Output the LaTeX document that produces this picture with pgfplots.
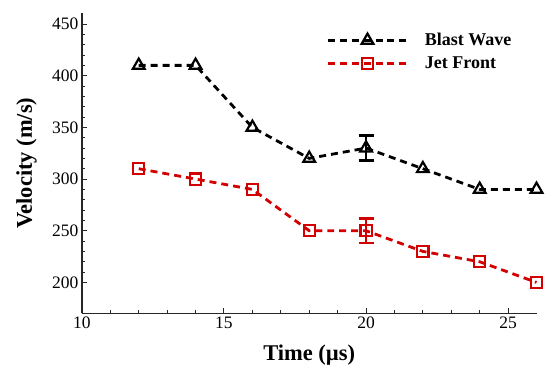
\documentclass[border=0pt]{standalone}
\usepackage{fontspec}
\setmainfont{Liberation Serif}
\usepackage{pgfplots}
\pgfplotsset{compat=1.18}
\definecolor{jetred}{RGB}{210,0,0}
\begin{document}
\begin{tikzpicture}
\begin{axis}[name=ax,
 width=455pt, height=301pt, scale only axis,
 xmin=10, xmax=26, ymin=170, ymax=461,
 xtick={10,15,20,25}, ytick={200,250,...,450},
 minor x tick num=4, minor y tick num=4,
 axis lines*=left, axis line style={line width=1.3pt, black!85},
 tick align=inside, major tick length=5pt, minor tick length=3pt,
 tick style={line width=1pt, black!85},
 /pgf/number format/assume math mode=true,
 ticklabel style={font=\fontsize{17.5}{19}\selectfont},
 xlabel={Time (µs)}, ylabel={Velocity (m/s)},
 label style={font=\fontsize{22.5}{26}\selectfont\bfseries},
 xlabel style={at={(axis description cs:0.5,0)}, anchor=north, yshift=-28pt},
 ylabel style={at={(axis description cs:-0.152,0.5)}, anchor=north},
 legend style={draw=none, fill=none, at={(axis description cs:0.53,0.945)}, anchor=north west, font=\fontsize{18}{20}\selectfont\bfseries, row sep=5.5pt, /tikz/every odd column/.append style={column sep=14pt}},
 legend cell align=left,
 legend image code/.code={\draw[mark repeat=2, mark phase=2, #1, line width=3pt] plot coordinates {(0pt,0pt) (40pt,0pt) (80pt,0pt)};},
 clip=false,
]
\addplot[black, line width=2.8pt, dash pattern=on 7pt off 5pt, mark=triangle, mark size=6.8pt, mark options={solid, line width=2.2pt, fill=white}]
 coordinates {(12,410) (14,410) (16,350) (18,320) (20,330) (22,310) (24,290) (26,290)};
\addlegendentry{Blast Wave}
\addplot[jetred, line width=2.8pt, dash pattern=on 7pt off 5pt, mark=square, mark size=5.6pt, mark options={solid, line width=2.2pt, fill=white}]
 coordinates {(12,310) (14,300) (16,290) (18,250) (20,250) (22,230) (24,220) (26,200)};
\addlegendentry{Jet Front}
\addplot[black, mark=none, forget plot, error bars/.cd, y dir=both, y explicit, error bar style={line width=2.6pt, solid}, error mark options={rotate=90, mark size=7.5pt, line width=2.6pt}]
 coordinates {(20,330) +- (0,12)};
\addplot[jetred, mark=none, forget plot, error bars/.cd, y dir=both, y explicit, error bar style={line width=2.6pt, solid}, error mark options={rotate=90, mark size=7.5pt, line width=2.6pt}]
 coordinates {(20,250) +- (0,12)};
\end{axis}
\pgfresetboundingbox
\path ([shift={(-82pt,-53pt)}]ax.south west) rectangle ([shift={(8.5pt,12.7pt)}]ax.north east);
\end{tikzpicture}
\end{document}
